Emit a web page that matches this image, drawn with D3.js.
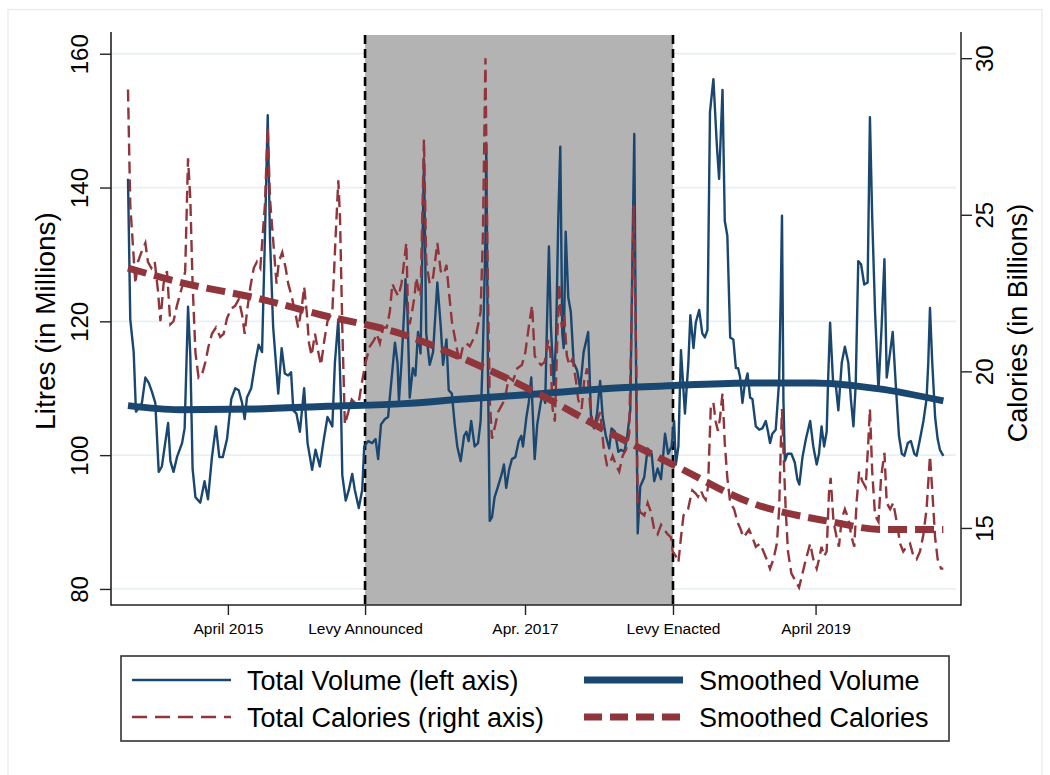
<!DOCTYPE html>
<head>
    <meta charset=utf-8>
    <title>Volume and Calories</title>
    <script src="https://d3js.org/d3.v7.min.js"></script>
    <style>
        body { margin: 0; background: #ffffff; }
        text { font-family: "Liberation Sans", Arial, sans-serif; fill: #000000; }
    </style>
</head>
<body>
<div id="chart"></div>
<script type="text/javascript">
    // weekly series, x = week index from start of data
    var volume = [
        [0,141.3],[0.8,120.3],[2,115.4],[2.8,106.5],[3.7,107],[4.9,107.8],[6.1,111.6],[7.3,110.8],[8.4,109.5],[9.6,107.8],
        [10.8,97.5],[11.9,98.3],[12.9,101.3],[14.1,104.8],[14.9,99.1],[16,97.5],[17.2,99.7],[19,101.8],[19.9,104],[21.1,122.2],
        [21.9,114.9],[22.7,98],[23.7,93.7],[25.4,92.9],[26.9,96.1],[28.1,93.4],[29.5,99.7],[30.9,104.3],[32.1,99.7],[33.3,99.7],
        [34.8,102.4],[36.3,108.4],[37.7,110],[38.9,109.7],[40.1,107.8],[41,105.4],[41.8,108.6],[43.3,110],[44.7,113.8],[45.9,116.5],
        [47.1,115.4],[48.1,132.3],[49.1,150.8],[49.9,132.3],[51,119.2],[52.8,109.2],[54,116],[55.1,112.2],[56.3,111.9],[57.3,112.4],
        [58.1,106.7],[59.2,106.2],[60.4,103.5],[61.9,110],[63.1,101.8],[64.7,97.8],[65.9,100.8],[67.4,98.3],[68.6,101.8],[70.1,105.7],
        [71.8,104.3],[72.7,113.8],[73.9,120.3],[74.8,108.4],[75.3,97],[76.5,93.2],[77.6,94.8],[78.8,97.2],[79.7,94.8],[81.1,92.1],
        [82.3,94.8],[83,101.3],[84.4,102.1],[85.8,101.8],[87,102.4],[87.9,99.4],[88.9,104.6],[90.3,105.4],[91.4,105.7],[92,108.6],
        [92.9,112.7],[93.8,116.8],[94.7,113.8],[95.2,108.1],[96.1,113.8],[97.1,122],[97.5,126.3],[98.2,121.4],[99,108.6],[100.1,113],
        [101,111.9],[101.9,118.4],[102.8,115.2],[104,144.2],[104.8,118.2],[106,113.5],[107.2,115.4],[108.7,125.8],[109.9,119.2],[110.7,113.5],
        [111.9,117.3],[112.7,109.7],[113.8,109.2],[114.8,104.6],[115.7,101.3],[116.9,99.1],[118.1,102.9],[118.9,103.5],[119.7,102.1],[120.6,105.1],
        [121.8,101.3],[123,101.8],[123.9,105.1],[124.7,115.4],[125.6,132.3],[125.9,146.4],[126.5,111.6],[127.1,90.2],[127.9,90.7],[128.8,93.7],
        [130,95.3],[131.2,97],[132.1,98.6],[132.9,95.1],[133.9,97.8],[134.9,99.4],[136.1,99.7],[137.3,102.1],[138.2,102.9],[138.8,101.3],
        [140,105.7],[140.8,107.8],[141.7,111.6],[142.9,99.4],[143.8,104.6],[145,107.8],[145.8,109.2],[146.6,107.8],[147.2,119.2],[147.9,131.2],
        [148.6,119.2],[149.6,110.5],[150.4,117.1],[151.2,135.5],[151.9,146.1],[152.6,118.2],[153.1,116],[153.8,133.4],[154.7,123.6],[155.6,121.4],
        [156.6,113.8],[157.8,112.7],[158.9,110],[160.1,115.4],[161.7,118.4],[162.7,105.7],[163.8,104],[164.8,106.2],[165.9,111.1],[166.8,105.7],
        [167.9,102.9],[169.1,101],[169.9,104],[171.1,103.5],[172.3,100.5],[173.2,100.8],[174.4,100.5],[175.3,102.4],[176.5,106.7],[177.3,131.2],
        [177.9,148],[178.5,113.8],[179.1,88.3],[180,95.3],[181.4,96.7],[182.6,101],[184,100.2],[184.9,96.1],[186.1,98],[187.3,96.4],
        [188.7,103.2],[189.8,100.2],[191,101.3],[191.9,105.1],[192.5,98.6],[193.4,101.3],[194.3,115.7],[195.7,106.2],[196.9,113.8],[197.6,120.9],
        [198.7,116],[199.5,119.8],[200.7,121.7],[201.8,118.2],[202.7,117.6],[203.6,118.7],[204.5,151.3],[205.7,156.2],[206.9,146.4],[207.7,141.3],
        [208.9,154.6],[209.7,135],[210.6,132.8],[211.6,117.6],[212.7,117.3],[213.6,113],[214.4,113],[215.1,111.6],[215.9,107.8],[216.7,110.5],
        [217.7,112.2],[218.6,108.6],[219.4,108.4],[220.6,104.3],[221.8,103.8],[222.9,104],[224.1,105.1],[224.9,103.5],[225.6,101.8],[226.4,103.2],
        [227.6,103.8],[228.8,111.1],[229.4,124.7],[229.8,135.8],[230.3,108.4],[230.8,99.1],[231.7,100.2],[233.1,100.2],[234.3,98.9],[235.2,96.4],
        [235.9,95.6],[237,99.7],[238.2,102.4],[239.7,105.1],[240.8,101.3],[242,98.6],[242.8,100.2],[243.7,104.3],[244.6,101.3],[245.5,103.5],
        [246,111.1],[246.7,119.8],[247.8,110.5],[248.7,110.5],[249.6,106.7],[250.8,113.8],[251.9,116.2],[253.1,113.8],[254,108.4],[254.9,104.3],
        [255.7,110.5],[256.6,129],[257.6,128.5],[258.7,125.5],[259.9,125.8],[260.7,150.5],[261.5,135.5],[262.5,121.4],[263.7,109.7],[264.8,119.2],
        [265.8,129.3],[266.6,111.6],[267.8,115.4],[268.7,118.4],[269.7,111.1],[270.9,102.9],[271.9,100.2],[272.8,99.9],[274,101.8],[275.1,102.1],
        [276.3,100.2],[277.1,99.9],[278.3,102.4],[279.5,105.1],[280.6,108.4],[281.2,113.8],[281.8,122],[282.6,113.8],[283.6,105.7],[284.5,102.4],
        [285.3,100.8],[286.5,99.9]
    ];

    var calories = [
        [0,29],[0.8,25.3],[1.6,24.2],[2.6,22.8],[3.5,23.5],[4.7,23.8],[6.1,24.1],[7,23.5],[8.2,23.3],[9.4,23.5],
        [10.5,22.6],[11.4,21.6],[12.5,22.8],[13.7,23.2],[14.9,21.5],[16,21.6],[17.2,22.1],[19,22.7],[20.1,23.2],[21.1,26.8],
        [21.9,25.5],[22.7,22.8],[23.7,20.6],[24.8,19.8],[26,19.9],[27.2,20.3],[28.3,20.8],[29.5,21.2],[30.9,21.4],[32.4,21.1],
        [33.6,21.2],[34.8,21.7],[36.3,22],[37.7,22.1],[38.9,22.3],[40.1,21.8],[41,21.2],[41.8,21.9],[43,22.7],[44.2,23.3],
        [45.3,23.5],[46.5,23.3],[48.1,25.3],[49.1,27.8],[49.9,25.5],[51,24.2],[52.2,22.8],[53,23.5],[54.2,23.8],[55.4,23.3],
        [56.3,22.8],[57.5,22.4],[58.7,21.9],[59.8,21.4],[61,22],[61.9,22.7],[62.8,21.9],[63.6,20.9],[64.5,20.5],[65.7,21.2],
        [66.9,20.6],[67.8,20.2],[69,21],[70.1,21.6],[71.8,21.9],[72.9,24.2],[73.9,26.1],[74.5,24.9],[75.3,21.4],[76.2,18.3],
        [77.4,18.7],[78.6,19.1],[79.7,19],[80.9,18.9],[82.1,19.6],[83.5,20.3],[85,20.8],[86.5,21],[87.4,21.2],[88.5,20.9],
        [89.7,21.4],[90.9,21.4],[92,21.9],[92.9,22.8],[93.8,22.6],[95,22.4],[96.1,22.8],[97.8,24.1],[98.4,21.9],[99,21.5],
        [99.8,21.9],[100.7,22.4],[101.3,23],[102.1,22.6],[102.8,22.4],[104,27.4],[104.8,23.5],[106,22.8],[107.2,23],[108.7,24.1],
        [109.9,23.2],[111,23.1],[111.9,23.4],[112.7,22.6],[113.8,21.6],[115.4,20.8],[116.5,20.3],[117.7,20.8],[118.9,20.9],[120.1,20.8],
        [121.2,21],[122.4,21.2],[123.9,21.9],[124.7,24.3],[125.6,30],[126.3,23.8],[127.1,19.1],[127.9,17.85],[129.1,18.3],[130,18.7],
        [131.2,18.9],[132.4,19.1],[133.8,19.8],[135.3,19.7],[136.8,20.1],[138.4,20.2],[139.6,20.6],[141.1,21.6],[142,22.1],[142.9,20.5],
        [144.1,20.3],[145.2,20.2],[146.4,20.3],[147.7,21],[148.4,20.6],[149.2,18.8],[150,18.4],[150.9,21.2],[151.5,22.8],[152.4,21.4],
        [153.3,21.8],[154.2,20.5],[155.1,20.2],[156.2,20.4],[157.4,19.7],[158.2,19.1],[159.4,18.8],[160.3,19.7],[161.3,20.1],[162.4,18.9],
        [163.6,18.2],[164.4,18.3],[165.9,18.7],[167.1,17.6],[168.3,17],[169.1,17],[170.3,17.3],[171.5,17],[172.6,16.8],[173.8,17.3],
        [175,17.5],[176.1,18],[176.9,21.4],[177.7,25.3],[178.5,20.9],[179.1,15.8],[180,15.5],[181.4,15.4],[182.6,15.8],[183.8,15.5],
        [184.9,14.95],[186.1,14.8],[187.3,15.1],[188.4,14.95],[189.6,14.8],[190.8,14.7],[191.4,14.25],[192.5,14.1],[193.4,13.9],[194.3,14.7],
        [195.2,15.4],[196.8,15.6],[197.5,15.9],[198.3,16.2],[199.5,16.1],[200.3,16],[201.3,16.2],[202.2,16],[203,15.9],[203.8,16.3],
        [204.8,18.9],[205.7,19],[206.5,18.4],[207.3,18.1],[208,18.5],[208.9,19.3],[209.7,17.7],[210.6,16.6],[211.6,15.8],[213,15.6],
        [214.1,15.2],[215.3,14.95],[216.2,14.7],[217.1,14.8],[218.2,14.95],[219.4,14.7],[220.6,14.4],[222.1,14.5],[223.3,14.25],[224.4,14],
        [225.6,13.7],[226.8,14],[228,14.5],[228.8,15.6],[229.4,17.7],[229.8,18.8],[230.5,17],[231.1,15.6],[231.9,14.25],[233.1,13.55],
        [234.6,13.3],[235.8,13.1],[237,13.55],[238.2,14],[239.7,14.5],[240.8,14],[242,13.7],[242.8,14],[243.7,14.4],[244.6,14.1],
        [245.5,14.25],[246.3,16.1],[246.9,16.6],[247.9,15.2],[249,14.7],[249.8,14.4],[250.8,15.3],[251.9,15.6],[253.1,15.3],[254.3,14.7],
        [255.2,14.4],[256,15.8],[256.9,16.8],[258,16.5],[259.2,16.3],[260.1,17.7],[260.7,18.8],[261.5,16.8],[262.5,15.4],[263.7,15.2],
        [264.6,16.6],[265.8,17.4],[266.6,15.8],[267.8,15.6],[268.9,15.8],[270.1,15.2],[271.3,14.5],[272.4,14.25],[273.6,14.4],[274.8,14.5],
        [276,14.1],[277.1,14],[278.3,14.25],[279.5,14.8],[280.6,15.6],[281.8,17.3],[282.6,16.2],[283.6,14.7],[284.5,14],[285.7,13.7],
        [286.5,13.7]
    ];

    var smoothVolume = [[0,107.4],[18,106.8],[45,106.9],[70,107.3],[97,107.7],[118,108.4],[146,109.2],[170,110],
                        [192,110.4],[219,110.8],[241,110.8],[264,109.9],[286.5,108.1]];
    var smoothCalories = [[0,23.3],[18,22.85],[47,22.3],[68,21.8],[96,21.2],[118,20.4],[146,19.2],[168,18.1],
                          [192,17],[219,15.8],[247,15.2],[265,14.95],[286.5,14.95]];

    var tickWeeks = [35.1, 83.3, 139.5, 191.5, 241.6];
    var tickLabels = ["April 2015", "Levy Announced", "Apr. 2017", "Levy Enacted", "April 2019"];
    var levyWeeks = [83.3, 191.5];
    var leftTicks = [80, 100, 120, 140, 160];
    var rightTicks = [15, 20, 25, 30];

    var legendItems = [
        {label: "Total Volume (left axis)", col: 0, row: 0, color: "#1a476f", width: 2.4, dash: null},
        {label: "Total Calories (right axis)", col: 0, row: 1, color: "#90353b", width: 2.4, dash: "15,8"},
        {label: "Smoothed Volume", col: 1, row: 0, color: "#1a476f", width: 7, dash: null},
        {label: "Smoothed Calories", col: 1, row: 1, color: "#90353b", width: 7, dash: "18,8"}
    ];

    var svg_dx = 1050, svg_dy = 775,
        plot = {left: 111, right: 961, top: 35, bottom: 605};

    var x = d3.scaleLinear().domain([-5.97, 292.7]).range([plot.left, plot.right]),
        yL = d3.scaleLinear().domain([77.6, 162.8]).range([plot.bottom, plot.top]),
        yR = d3.scaleLinear().domain([12.54, 30.74]).range([plot.bottom, plot.top]);

    var svg = d3.select("#chart")
            .append("svg")
            .attr("width", svg_dx)
            .attr("height", svg_dy);

    svg.append("rect")
        .attr("x", 8).attr("y", 9.5)
        .attr("width", 1034).attr("height", 780)
        .attr("fill", "#ffffff")
        .attr("stroke", "#e4ecee")
        .attr("stroke-width", 1.2);

    // gridlines
    svg.append("g")
        .selectAll("line")
        .data(leftTicks)
        .enter()
        .append("line")
        .attr("x1", plot.left).attr("x2", plot.right - 5)
        .attr("y1", d => yL(d)).attr("y2", d => yL(d))
        .attr("stroke", "#e8f0f2")
        .attr("stroke-width", 1.8);

    // levy period
    svg.append("rect")
        .attr("x", x(levyWeeks[0]))
        .attr("y", plot.top)
        .attr("width", x(levyWeeks[1]) - x(levyWeeks[0]))
        .attr("height", plot.bottom - plot.top)
        .attr("fill", "#b3b3b3");

    svg.append("g")
        .selectAll("line")
        .data(levyWeeks)
        .enter()
        .append("line")
        .attr("x1", d => x(d)).attr("x2", d => x(d))
        .attr("y1", plot.top).attr("y2", plot.bottom)
        .attr("stroke", "#000")
        .attr("stroke-width", 2.6)
        .attr("stroke-dasharray", "9,5");

    var lineL = d3.line().x(d => x(d[0])).y(d => yL(d[1])),
        lineR = d3.line().x(d => x(d[0])).y(d => yR(d[1])),
        smoothL = d3.line().x(d => x(d[0])).y(d => yL(d[1])).curve(d3.curveMonotoneX),
        smoothR = d3.line().x(d => x(d[0])).y(d => yR(d[1])).curve(d3.curveMonotoneX);

    svg.append("path").datum(volume)
        .attr("d", lineL).attr("fill", "none")
        .attr("stroke", "#1a476f").attr("stroke-width", 2.4)
        .attr("stroke-linejoin", "round");

    svg.append("path").datum(calories)
        .attr("d", lineR).attr("fill", "none")
        .attr("stroke", "#90353b").attr("stroke-width", 2.4)
        .attr("stroke-dasharray", "12,6");

    svg.append("path").datum(smoothVolume)
        .attr("d", smoothL).attr("fill", "none")
        .attr("stroke", "#1a476f").attr("stroke-width", 7);

    svg.append("path").datum(smoothCalories)
        .attr("d", smoothR).attr("fill", "none")
        .attr("stroke", "#90353b").attr("stroke-width", 7)
        .attr("stroke-dasharray", "19,8");

    // axes
    var axis_yl = svg.append("g")
        .attr("transform", "translate(" + plot.left + ",0)")
        .call(d3.axisLeft(yL).tickValues(leftTicks).tickSize(11).tickSizeOuter(0));
    axis_yl.selectAll("text")
        .attr("transform", "rotate(-90)")
        .attr("x", 0).attr("y", -23).attr("dy", 0)
        .attr("text-anchor", "middle")
        .style("font-size", "24px");

    var axis_yr = svg.append("g")
        .attr("transform", "translate(" + plot.right + ",0)")
        .call(d3.axisRight(yR).tickValues(rightTicks).tickSize(11).tickSizeOuter(0));
    axis_yr.selectAll("text")
        .attr("transform", "rotate(-90)")
        .attr("x", 0).attr("y", 32).attr("dy", 0)
        .attr("text-anchor", "middle")
        .style("font-size", "24px");

    var axis_x = svg.append("g")
        .attr("transform", "translate(0," + plot.bottom + ")")
        .call(d3.axisBottom(x).tickValues(tickWeeks)
              .tickFormat((d, i) => tickLabels[i]).tickSize(10).tickSizeOuter(0));
    axis_x.selectAll("text")
        .attr("y", 29).attr("dy", 0)
        .style("font-size", "15.5px");

    [axis_yl, axis_yr, axis_x].forEach(function(a) {
        a.selectAll("path,line").attr("stroke", "#222").attr("stroke-width", 1.4);
        a.select(".domain").attr("d", null);
        a.selectAll("text").attr("font-family", null);
    });

    svg.append("line")
        .attr("x1", plot.left).attr("x2", plot.left)
        .attr("y1", plot.top - 3).attr("y2", plot.bottom + 0.7)
        .attr("stroke", "#222").attr("stroke-width", 1.6);
    svg.append("line")
        .attr("x1", plot.right).attr("x2", plot.right)
        .attr("y1", plot.top - 3).attr("y2", plot.bottom + 0.7)
        .attr("stroke", "#333").attr("stroke-width", 1.6);
    svg.append("line")
        .attr("x1", plot.left).attr("x2", plot.right)
        .attr("y1", plot.bottom).attr("y2", plot.bottom)
        .attr("stroke", "#222").attr("stroke-width", 1.6);

    svg.append("text")
        .attr("transform", "translate(55,321) rotate(-90)")
        .attr("text-anchor", "middle")
        .style("font-size", "28px")
        .text("Litres (in Millions)");

    svg.append("text")
        .attr("transform", "translate(1027,323) rotate(-90)")
        .attr("text-anchor", "middle")
        .style("font-size", "27px")
        .text("Calories (in Billions)");

    // legend
    svg.append("rect")
        .attr("x", 121).attr("y", 656)
        .attr("width", 828).attr("height", 85)
        .attr("fill", "#fff")
        .attr("stroke", "#333").attr("stroke-width", 1.6);

    var leg = svg.append("g")
        .selectAll("g")
        .data(legendItems)
        .enter()
        .append("g")
        .attr("transform", d => "translate(" + (d.col ? 584 : 132) + "," + (d.row ? 717 : 680) + ")");

    leg.append("line")
        .attr("x1", 0).attr("x2", 99)
        .attr("stroke", d => d.color)
        .attr("stroke-width", d => d.width)
        .attr("stroke-dasharray", d => d.dash);

    leg.append("text")
        .attr("x", 115).attr("y", 10)
        .style("font-size", "27px")
        .text(d => d.label);
</script>
</body>
